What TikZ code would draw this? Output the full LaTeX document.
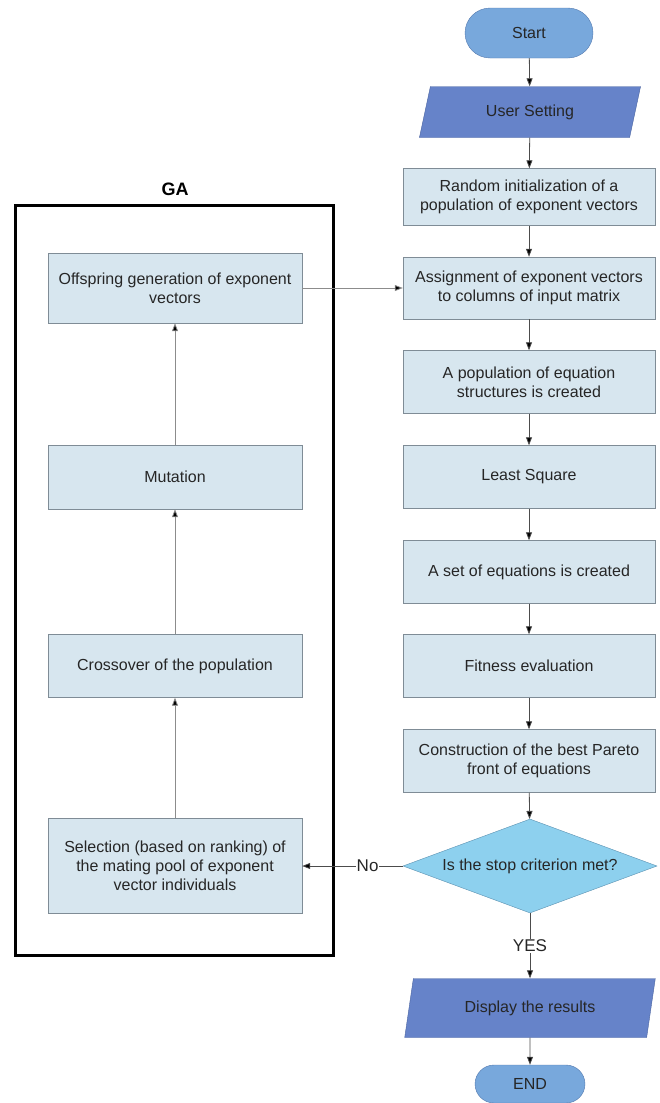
\documentclass[tikz,border=0pt]{standalone}
\usepackage{fontspec}
\setmainfont{Liberation Sans}
\usetikzlibrary{shapes.geometric,shapes.misc,arrows.meta}
\definecolor{procfill}{HTML}{D7E6EF}
\definecolor{procline}{HTML}{7F8C96}
\definecolor{termfill}{HTML}{78A8DC}
\definecolor{termline}{HTML}{5479AE}
\definecolor{iofill}{HTML}{6683C9}
\definecolor{ioline}{HTML}{4B64A0}
\definecolor{decfill}{HTML}{8DD0EE}
\definecolor{decline}{HTML}{5A90B0}
\begin{document}
\begin{tikzpicture}[
    x=1pt, y=-1pt,
    every node/.style={font=\fontsize{16}{19}\selectfont, text=black!85},
    procbox/.style={draw=procline, fill=procfill, rectangle, align=center,
      minimum width=252, inner sep=0pt},
    gabox/.style={procbox, minimum width=254},
    termbox/.style={draw=termline, fill=termfill, rounded rectangle, inner sep=0pt},
    iobox/.style={draw=ioline, fill=iofill, trapezium, trapezium left angle=72,
      trapezium right angle=108, trapezium stretches=true, inner sep=0pt},
    decbox/.style={draw=decline, fill=decfill, diamond, aspect=2.7, inner sep=0pt,
      minimum width=254, minimum height=94},
    flowline/.style={draw=black!70, line width=0.8pt, -{Triangle[length=8pt,width=6pt,fill=black]}},
    galine/.style={draw=black!45, line width=0.8pt, -{Triangle[length=8pt,width=6pt,fill=black]}},
    gaframe/.style={draw=black, line width=3pt, rectangle, inner sep=0pt}
  ]
  \useasboundingbox (0,0) rectangle (659,1103);
  \node[termbox, minimum width=128, minimum height=50] (start) at (529,33) {Start};
  \node[iobox, minimum width=222, minimum height=51] (user) at (530,112) {User Setting};
  \node[procbox, minimum height=57] (init) at (529,197) {Random initialization of a\\population of exponent vectors};
  \node[procbox, minimum height=62] (assign) at (529,288) {Assignment of exponent vectors\\to columns of input matrix};
  \node[procbox, minimum height=63] (struct) at (529,382) {A population of equation\\structures is created};
  \node[procbox, minimum height=63] (lsq) at (529,477) {Least Square};
  \node[procbox, minimum height=63] (eqset) at (529,572) {A set of equations is created};
  \node[procbox, minimum height=63] (fit) at (529,666) {Fitness evaluation};
  \node[procbox, minimum height=63] (pareto) at (529,761) {Construction of the best Pareto\\front of equations};
  \node[decbox] (stop) at (530,866) {Is the stop criterion met?};
  \node[iobox, minimum width=251, minimum height=59] (show) at (530,1008) {Display the results};
  \node[termbox, minimum width=110, minimum height=38] (finish) at (530,1084) {END};

  \node[gaframe, minimum width=318, minimum height=750] (ga) at (174,580) {};
  \node[font=\fontsize{18}{20}\selectfont\bfseries, text=black] (galabel) at (175,189) {GA};
  \node[gabox, minimum height=70] (offspring) at (175,288) {Offspring generation of exponent\\vectors};
  \node[gabox, minimum height=64] (mutate) at (175,477) {Mutation};
  \node[gabox, minimum height=63] (cross) at (175,666) {Crossover of the population};
  \node[gabox, minimum height=95] (select) at (175,866) {Selection (based on ranking) of\\the mating pool of exponent\\vector individuals};

  \draw[flowline] (start) -- (user);
  \draw[flowline] (user) -- (init);
  \draw[flowline] (init) -- (assign);
  \draw[flowline] (assign) -- (struct);
  \draw[flowline] (struct) -- (lsq);
  \draw[flowline] (lsq) -- (eqset);
  \draw[flowline] (eqset) -- (fit);
  \draw[flowline] (fit) -- (pareto);
  \draw[flowline] (pareto) -- (stop);
  \draw[flowline] (stop) -- node[fill=white, inner sep=1pt, font=\fontsize{17}{19}\selectfont] {YES} (show);
  \draw[flowline] (show) -- (finish);
  \draw[flowline] (stop.west) -- node[pos=0.35, fill=white, inner sep=1pt, font=\fontsize{17}{19}\selectfont] {No} (select.east);
  \draw[galine] (select) -- (cross);
  \draw[galine] (cross) -- (mutate);
  \draw[galine] (mutate) -- (offspring);
  \draw[galine] (offspring.east) -- (assign.west);
\end{tikzpicture}
\end{document}
